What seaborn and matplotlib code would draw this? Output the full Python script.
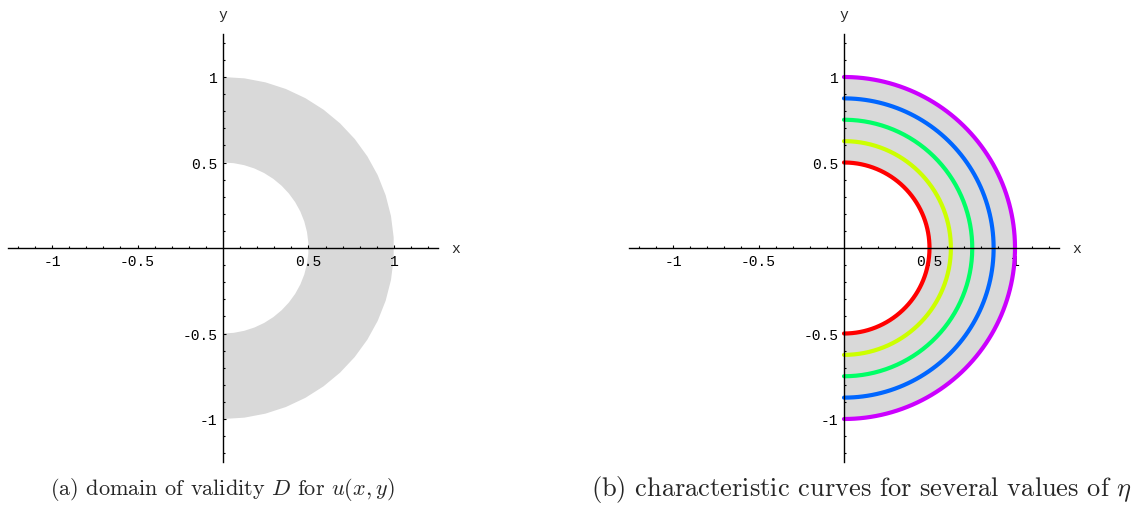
import colorsys
import numpy as np
import pandas as pd
import matplotlib
matplotlib.use("Agg")
import matplotlib.pyplot as plt
from matplotlib.ticker import FixedLocator
import seaborn as sns

# ---- data ----
inner_radius = 0.5
outer_radius = 1.0
curve_radii = [0.5, 0.625, 0.75, 0.875, 1.0]
curve_hues = [0.0, 0.2, 0.4, 0.6, 0.8]
major_ticks = [-1.0, -0.5, 0.5, 1.0]
major_labels = ["-1", "-0.5", "0.5", "1"]
minor_ticks = [-1.2, -1.1, -0.9, -0.8, -0.7, -0.6, -0.4, -0.3, -0.2, -0.1,
               0.1, 0.2, 0.3, 0.4, 0.6, 0.7, 0.8, 0.9, 1.1, 1.2]
captions = [r"(a) domain of validity $D$ for $u(x,y)$",
            r"(b) characteristic curves for several values of $\eta$"]

sns.set_theme(style="white")
plt.rcParams["font.family"] = ["Liberation Mono", "DejaVu Sans"]
plt.rcParams["mathtext.fontset"] = "cm"

W, H = 1138, 510
fig = plt.figure(figsize=(W / 100, H / 100), dpi=100)

scale = 171.0  # px per unit
lim = 1.4


def make_axes(cx, cy):
    half = lim * scale
    ax = fig.add_axes([(cx - half) / W, (H - cy - half) / H, 2 * half / W, 2 * half / H])
    ax.set_xlim(-lim, lim)
    ax.set_ylim(-lim, lim)
    ax.set_facecolor("none")
    for s in ["top", "right"]:
        ax.spines[s].set_visible(False)
    ax.spines["left"].set_position(("data", 0))
    ax.spines["bottom"].set_position(("data", 0))
    for s in ["left", "bottom"]:
        ax.spines[s].set_color("black")
        ax.spines[s].set_linewidth(1.0)
        ax.spines[s].set_zorder(5)
    ax.spines["bottom"].set_bounds(-1.26, 1.26)
    ax.spines["left"].set_bounds(-1.25, 1.25)
    ax.xaxis.set_major_locator(FixedLocator(major_ticks))
    ax.yaxis.set_major_locator(FixedLocator(major_ticks))
    ax.xaxis.set_minor_locator(FixedLocator(minor_ticks))
    ax.yaxis.set_minor_locator(FixedLocator(minor_ticks))
    ax.set_xticklabels(major_labels)
    ax.set_yticklabels(major_labels)
    ax.tick_params(which="both", direction="in", color="black", width=0.8,
                   labelsize=10.5, bottom=True, left=True, labelcolor="black")
    ax.tick_params(which="major", length=2.5, pad=4)
    ax.tick_params(which="minor", length=1.3)
    ax.xaxis.set_zorder(2)
    ax.yaxis.set_zorder(2)
    ax.text(0, 1.37, "y", ha="center", va="center", fontsize=10.5, clip_on=False)
    ax.text(1.36, 0, "x", ha="center", va="center", fontsize=10.5, clip_on=False)
    ax.grid(False)
    return ax


def annulus(ax):
    t = np.linspace(-np.pi / 2, np.pi / 2, 26)
    xs = np.concatenate([outer_radius * np.cos(t), inner_radius * np.cos(t[::-1])])
    ys = np.concatenate([outer_radius * np.sin(t), inner_radius * np.sin(t[::-1])])
    ax.fill(xs, ys, color="#d9d9d9", lw=0, zorder=0.5)


axL = make_axes(223, 249)
annulus(axL)

axR = make_axes(844, 249)
annulus(axR)
t = np.linspace(-np.pi / 2, np.pi / 2, 200)
for r, h in zip(curve_radii, curve_hues):
    df = pd.DataFrame({"x": r * np.cos(t), "y": r * np.sin(t)})
    sns.lineplot(data=df, x="x", y="y", sort=False, ax=axR,
                 color=colorsys.hsv_to_rgb(h, 1, 1), lw=3, zorder=3,
                 estimator=None)
axR.set_xlabel("")
axR.set_ylabel("")
axR.set_xlim(-lim, lim)
axR.set_ylim(-lim, lim)

fig.text(222 / W, 1 - 490 / H, captions[0], ha="center", va="center",
         fontsize=16, family="cmr10")
fig.text(862 / W, 1 - 490 / H, captions[1], ha="center", va="center",
         fontsize=19, family="cmr10")

fig.savefig("out.png", dpi=100)
